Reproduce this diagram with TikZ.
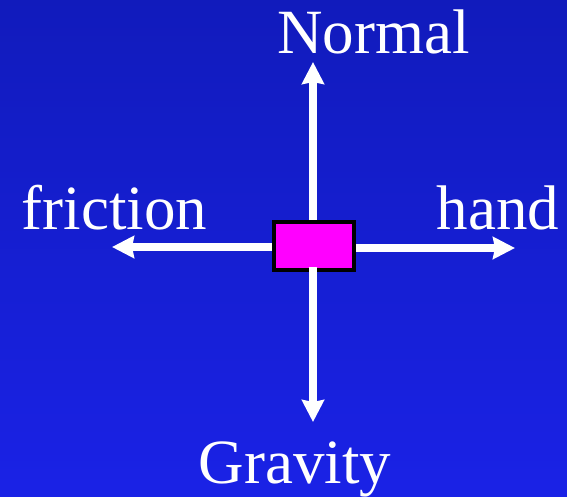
\documentclass[tikz,border=0pt]{standalone}
\usepackage{fontspec}
\setmainfont{Liberation Serif}
\usepackage{tikz}
\usetikzlibrary{arrows.meta,positioning}
\usepackage{xcolor}
\definecolor{bgtop}{RGB}{17,27,188}
\definecolor{bgbot}{RGB}{26,34,230}
\definecolor{boxpink}{RGB}{255,0,255}

\begin{document}
\begin{tikzpicture}[x=1pt, y=-1pt, >={Stealth[length=22pt, width=22pt, inset=2pt]},
    force/.style={->, draw=white, line width=7.5pt},
    lbl/.style={text=white, anchor=base, inner sep=0pt, font=\fontsize{63}{70}\selectfont},
    block/.style={draw=black, line width=4pt, fill=boxpink, minimum width=80pt, minimum height=48pt, inner sep=0pt}]
\useasboundingbox (0,0) rectangle (567,496);
\fill[top color=bgtop, bottom color=bgbot] (0,0) rectangle (567,496);
\node[block] (blk) at (314,246) {};
\coordinate (ntip) at (313,62);
\coordinate (gtip) at (313,422);
\coordinate (ftip) at (112,247);
\coordinate (htip) at (515,248);
\node[lbl] (normal) at (373.5,53) {Normal};
\node[lbl] (friction) at (114.5,229) {friction};
\node[lbl] (hand) at (498,229) {hand};
\node[lbl] (gravity) at (295,483) {Gravity};
\draw[force] (blk.north -| ntip) -- (ntip);
\draw[force] ([yshift=5pt]blk.south -| gtip) -- (gtip);
\draw[force] (blk.west |- ftip) -- (ftip);
\draw[force] (blk.east |- htip) -- (htip);
\end{tikzpicture}
\end{document}
